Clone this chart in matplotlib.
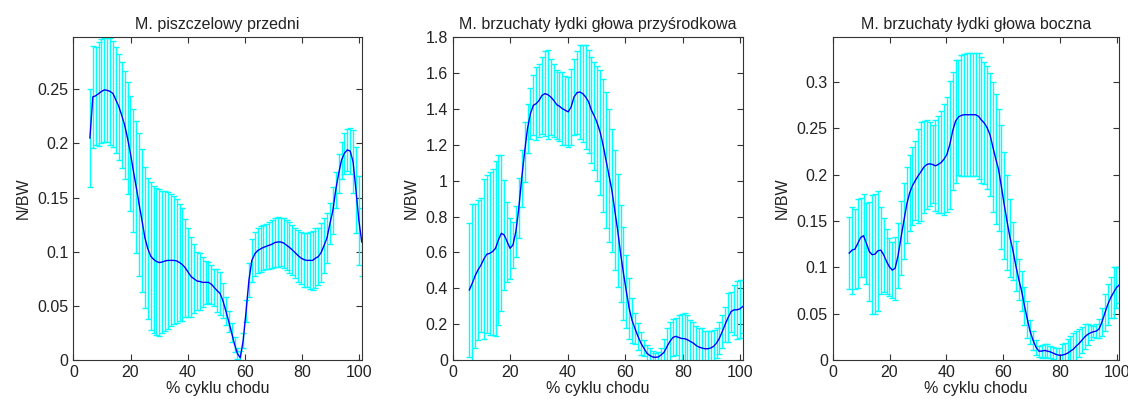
import numpy as np
import matplotlib
matplotlib.use("Agg")
import matplotlib.pyplot as plt
from matplotlib.ticker import FuncFormatter

plt.rcParams['font.family'] = ['Liberation Sans', 'DejaVu Sans']

# % of gait cycle: one sample per percent, starting at ~6%
gait = np.linspace(5.8, 100.8, 95)

titles = ['M. piszczelowy przedni',
          'M. brzuchaty łydki głowa przyśrodkowa',
          'M. brzuchaty łydki głowa boczna']

# tibialis anterior
ta_mean = [0.205, 0.243, 0.244, 0.246, 0.248, 0.2495, 0.249, 0.248, 0.246, 0.240,
           0.234, 0.226, 0.217, 0.205, 0.191, 0.175, 0.160, 0.144, 0.129, 0.113,
           0.103, 0.096, 0.093, 0.091, 0.090, 0.0905, 0.0915, 0.092, 0.092, 0.092,
           0.0915, 0.090, 0.088, 0.085, 0.081, 0.077, 0.075, 0.073, 0.0725, 0.0717,
           0.0717, 0.0717, 0.070, 0.067, 0.064, 0.0615, 0.0547, 0.0454, 0.0355, 0.0253,
           0.0145, 0.006, 0.002, 0.018, 0.045, 0.074, 0.092, 0.098, 0.101, 0.1026,
           0.104, 0.105, 0.106, 0.107, 0.1085, 0.109, 0.109, 0.108, 0.106, 0.104,
           0.1016, 0.099, 0.0964, 0.0942, 0.0927, 0.092, 0.092, 0.092, 0.094, 0.0955,
           0.0995, 0.106, 0.113, 0.126, 0.138, 0.157, 0.172, 0.1845, 0.191, 0.194,
           0.193, 0.183, 0.157, 0.129, 0.109]
ta_sd = [0.045, 0.047, 0.045, 0.048, 0.048, 0.048, 0.048, 0.049, 0.049, 0.049,
         0.049, 0.049, 0.050, 0.052, 0.053, 0.057, 0.061, 0.066, 0.066, 0.065,
         0.065, 0.068, 0.068, 0.068, 0.068, 0.066, 0.065, 0.063, 0.061, 0.059,
         0.057, 0.054, 0.052, 0.045, 0.041, 0.037, 0.032, 0.027, 0.026, 0.023,
         0.020, 0.019, 0.018, 0.017, 0.020, 0.020, 0.016, 0.013, 0.010, 0.009,
         0.007, 0.005, 0.006, 0.007, 0.010, 0.016, 0.020, 0.020, 0.0205, 0.021,
         0.021, 0.021, 0.0215, 0.022, 0.0225, 0.023, 0.0225, 0.023, 0.023, 0.0235,
         0.0235, 0.023, 0.024, 0.024, 0.025, 0.025, 0.026, 0.027, 0.0275, 0.026,
         0.027, 0.0255, 0.023, 0.019, 0.022, 0.017, 0.018, 0.017, 0.019, 0.019,
         0.021, 0.029, 0.040, 0.041, 0.031]

# gastrocnemius medial head
gm_mean = [0.391, 0.428, 0.471, 0.503, 0.530, 0.564, 0.590, 0.595, 0.605, 0.623,
           0.670, 0.707, 0.697, 0.660, 0.623, 0.642, 0.716, 0.846, 1.013, 1.161,
           1.291, 1.374, 1.421, 1.430, 1.449, 1.476, 1.486, 1.480, 1.467, 1.449,
           1.425, 1.415, 1.402, 1.393, 1.384, 1.412, 1.467, 1.491, 1.495, 1.486,
           1.467, 1.440, 1.393, 1.360, 1.320, 1.270, 1.198, 1.115, 1.031, 0.948,
           0.836, 0.725, 0.595, 0.484, 0.382, 0.285, 0.219, 0.174, 0.132, 0.094,
           0.067, 0.039, 0.026, 0.017, 0.015, 0.017, 0.029, 0.044, 0.076, 0.104,
           0.126, 0.132, 0.126, 0.120, 0.119, 0.113, 0.104, 0.095, 0.081, 0.072,
           0.067, 0.063, 0.063, 0.067, 0.076, 0.095, 0.122, 0.159, 0.200, 0.237,
           0.270, 0.280, 0.280, 0.285, 0.298]
gm_sd = [0.376, 0.445, 0.402, 0.389, 0.375, 0.445, 0.441, 0.455, 0.463, 0.488,
         0.472, 0.435, 0.306, 0.223, 0.171, 0.130, 0.144, 0.167, 0.157, 0.167,
         0.135, 0.143, 0.166, 0.204, 0.203, 0.213, 0.235, 0.247, 0.213, 0.203,
         0.190, 0.191, 0.204, 0.191, 0.194, 0.213, 0.213, 0.230, 0.260, 0.269,
         0.288, 0.287, 0.296, 0.300, 0.320, 0.350, 0.370, 0.380, 0.370, 0.343,
         0.334, 0.315, 0.270, 0.260, 0.204, 0.170, 0.126, 0.087, 0.074, 0.065,
         0.046, 0.046, 0.041, 0.031, 0.025, 0.025, 0.038, 0.075, 0.100, 0.110,
         0.104, 0.105, 0.126, 0.136, 0.142, 0.139, 0.120, 0.116, 0.106, 0.106,
         0.111, 0.100, 0.100, 0.095, 0.090, 0.083, 0.089, 0.091, 0.098, 0.135,
         0.111, 0.138, 0.160, 0.162, 0.150]

# gastrocnemius lateral head
gl_mean = [0.1153, 0.1185, 0.1196, 0.1257, 0.1322, 0.134, 0.1257, 0.117, 0.1135, 0.1142,
           0.1178, 0.1185, 0.1135, 0.1062, 0.1005, 0.0969, 0.099, 0.1124, 0.1315, 0.1495,
           0.1675, 0.1798, 0.188, 0.1935, 0.1986, 0.2033, 0.208, 0.2109, 0.2116, 0.2109,
           0.2094, 0.2109, 0.213, 0.2166, 0.2217, 0.2321, 0.247, 0.2574, 0.262, 0.2638,
           0.2645, 0.2645, 0.2645, 0.2645, 0.2645, 0.2628, 0.2589, 0.2556, 0.2505, 0.243,
           0.2296, 0.217, 0.2051, 0.1863, 0.1665, 0.1484, 0.1315, 0.1178, 0.1016, 0.0871,
           0.0745, 0.0583, 0.0438, 0.0305, 0.0211, 0.0139, 0.0096, 0.0096, 0.0103, 0.0096,
           0.0088, 0.0074, 0.006, 0.0052, 0.0052, 0.006, 0.0074, 0.0096, 0.0117, 0.015,
           0.0179, 0.0214, 0.025, 0.0276, 0.0294, 0.0305, 0.0312, 0.0337, 0.0413, 0.051,
           0.06, 0.0673, 0.0727, 0.0781, 0.081]
gl_sd = [0.039, 0.047, 0.043, 0.048, 0.043, 0.045, 0.044, 0.053, 0.064, 0.065,
         0.065, 0.047, 0.040, 0.035, 0.031, 0.030, 0.034, 0.035, 0.040, 0.041,
         0.041, 0.041, 0.042, 0.043, 0.051, 0.053, 0.050, 0.048, 0.045, 0.042,
         0.049, 0.052, 0.055, 0.060, 0.062, 0.069, 0.064, 0.066, 0.062, 0.065,
         0.066, 0.0665, 0.0665, 0.0665, 0.0665, 0.068, 0.068, 0.066, 0.0665, 0.066,
         0.070, 0.070, 0.066, 0.067, 0.0575, 0.051, 0.0425, 0.031, 0.027, 0.022,
         0.022, 0.020, 0.020, 0.013, 0.010, 0.008, 0.006, 0.007, 0.0075, 0.0072,
         0.0065, 0.0065, 0.0072, 0.0075, 0.0116, 0.0126, 0.0148, 0.0162, 0.0177, 0.0162,
         0.0151, 0.0141, 0.0134, 0.0114, 0.0083, 0.0061, 0.0072, 0.0101, 0.0152, 0.0199,
         0.0217, 0.0217, 0.0271, 0.0217, 0.019]

means = [ta_mean, gm_mean, gl_mean]
sds = [ta_sd, gm_sd, gl_sd]
ytops = [0.298, 1.8, 0.348]
ysteps = [0.05, 0.2, 0.05]
ymax_tick = [0.25, 1.8, 0.3]

fig = plt.figure(figsize=(11.28, 3.99), dpi=100)
lefts = [0.065, 0.4013, 0.7382]
widths = [0.2557, 0.2571, 0.2541]

fmt = FuncFormatter(lambda v, p: '%g' % round(v, 4))

for i in range(3):
    ax = fig.add_axes([lefts[i], 0.0977, widths[i], 0.8088])
    m = np.array(means[i])
    s = np.array(sds[i])
    ax.errorbar(gait, m, yerr=s, fmt='none', ecolor='cyan', elinewidth=1,
                capsize=2, capthick=1, zorder=2)
    ax.plot(gait, m, color='blue', linewidth=1, zorder=3)
    ax.set_xlim(0, 100.8)
    ax.set_ylim(0, ytops[i])
    ax.set_xticks([0, 20, 40, 60, 80, 100])
    ax.set_yticks(np.arange(0, ymax_tick[i] + 1e-9, ysteps[i]))
    ax.yaxis.set_major_formatter(fmt)
    ax.tick_params(direction='in', top=True, right=True, length=4,
                   labelsize=11.5, colors='#333333', labelcolor='#222222')
    for sp in ax.spines.values():
        sp.set_color('#333333')
        sp.set_linewidth(0.8)
    ax.set_title(titles[i], fontsize=11.5, color='#222222', pad=6)
    ax.set_xlabel('% cyklu chodu', fontsize=11.5, color='#222222', labelpad=1)
    ax.set_ylabel('N/BW', fontsize=11.5, color='#222222', labelpad=5)

plt.savefig('out.png', dpi=100)
